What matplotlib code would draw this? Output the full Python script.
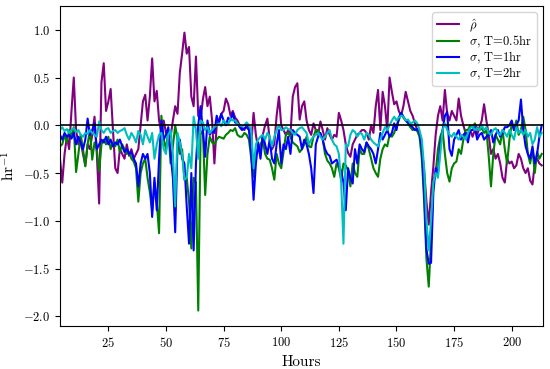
import numpy as np
import matplotlib
matplotlib.use("Agg")
import matplotlib.pyplot as plt

plt.rcParams.update({
    "font.family": "serif",
    "font.serif": ["cmr10"],
    "mathtext.fontset": "cm",
    "axes.formatter.use_mathtext": True,
    "axes.unicode_minus": True,
})

hours = np.arange(4, 214)

rho_hat = [
    -0.35, -0.60, -0.30, -0.12, -0.25, 0.15, 0.50, -0.05, -0.20, -0.18,
    -0.30, -0.42, -0.20, -0.25, -0.10, 0.09, -0.30, -0.82, 0.45, 0.65,
    0.15, 0.25, 0.38, -0.05, -0.45, -0.50, -0.25, -0.30, -0.35, -0.20,
    -0.32, -0.25, -0.35, -0.30, -0.25, 0.00, 0.25, 0.32, 0.05, 0.30,
    0.70, 0.25, 0.36, 0.05, -0.08, 0.05, -0.08, -0.05, -0.12, 0.05,
    0.20, 0.12, 0.55, 0.75, 0.97, 0.75, 0.82, 0.30, 0.20, 0.72,
    0.10, 0.05, 0.27, 0.40, 0.20, 0.30, 0.05, -0.40, 0.00, 0.05,
    0.12, 0.15, 0.28, 0.22, 0.10, 0.15, 0.08, 0.05, 0.00, -0.03,
    -0.05, 0.00, -0.02, -0.20, 0.13, -0.10, -0.25, -0.30, -0.10, 0.00,
    0.07, -0.15, -0.25, -0.20, 0.10, 0.30, 0.00, -0.05, -0.10, -0.05,
    -0.10, 0.30, 0.40, 0.44, 0.06, 0.20, 0.25, 0.05, -0.05, -0.10,
    0.02, -0.05, -0.10, 0.04, -0.05, -0.15, -0.03, -0.10, -0.15, -0.10,
    -0.12, 0.13, 0.05, -0.05, -0.20, -0.29, -0.33, -0.20, -0.15, -0.10,
    -0.08, -0.05, -0.05, -0.08, -0.15, 0.00, -0.08, 0.20, 0.37, -0.05,
    0.35, 0.20, -0.05, 0.50, 0.35, 0.22, 0.25, 0.15, 0.10, 0.20,
    0.35, 0.25, 0.15, 0.10, 0.02, -0.05, -0.10, -0.25, -0.47, -0.80,
    -1.04, -0.70, -0.43, -0.10, 0.10, 0.20, 0.05, 0.37, 0.12, 0.05,
    0.15, 0.10, 0.05, 0.28, 0.10, 0.00, -0.08, -0.10, -0.05, -0.12,
    -0.05, -0.10, -0.02, 0.05, 0.22, 0.05, -0.10, -0.30, -0.25, -0.35,
    -0.30, -0.40, -0.55, -0.60, -0.35, -0.40, -0.38, -0.45, -0.42, -0.30,
    -0.35, -0.45, -0.50, -0.45, -0.58, -0.62, -0.40, -0.35, -0.40, -0.42,
]

sigma_05 = [
    -0.22, -0.20, -0.10, -0.18, -0.05, -0.12, -0.02, -0.49, -0.30, -0.10,
    -0.25, -0.43, -0.20, -0.05, -0.36, -0.18, -0.25, -0.48, -0.20, -0.15,
    -0.20, -0.12, -0.25, -0.18, -0.22, -0.15, -0.28, -0.20, -0.25, -0.30,
    -0.28, -0.35, -0.38, -0.45, -0.80, -0.50, -0.40, -0.35, -0.55, -0.70,
    -0.90, -0.60, -0.80, -1.13, 0.10, -0.15, -0.25, -0.05, -0.40, -0.22,
    0.00, -0.15, -0.30, -0.25, -0.57, -0.55, -0.80, -1.29, -0.55, -0.60,
    -1.94, -0.10, -0.05, -0.73, -0.30, -0.12, -0.18, -0.20, -0.15, -0.12,
    -0.13, -0.14, -0.10, -0.08, -0.05, -0.06, -0.03, -0.10, -0.12, -0.12,
    -0.08, -0.10, -0.15, -0.35, -0.54, -0.30, -0.25, -0.20, -0.15, -0.30,
    -0.35, -0.36, -0.45, -0.57, -0.30, -0.40, -0.45, -0.28, -0.10, -0.08,
    -0.12, -0.18, -0.20, -0.22, -0.28, -0.25, -0.20, -0.12, -0.22, -0.23,
    -0.12, -0.05, -0.05, -0.10, -0.15, -0.30, -0.37, -0.40, -0.45, -0.54,
    -0.40, -0.45, -0.57, -0.40, -0.42, -0.47, -0.64, -0.40, -0.50, -0.54,
    -0.25, -0.30, -0.30, -0.18, -0.25, -0.35, -0.45, -0.50, -0.54, -0.35,
    -0.25, -0.20, -0.22, -0.10, -0.12, -0.08, 0.00, 0.05, 0.13, 0.08,
    0.05, 0.02, -0.02, -0.05, -0.04, -0.06, -0.12, -0.35, -0.80, -1.40,
    -1.69, -1.20, -0.60, -0.50, -0.25, -0.12, -0.05, -0.30, -0.50, -0.59,
    -0.45, -0.40, -0.38, -0.25, -0.30, -0.15, -0.05, -0.05, 0.00, -0.02,
    0.02, -0.03, -0.05, -0.03, -0.08, -0.05, -0.32, -0.64, -0.30, -0.10,
    -0.15, -0.20, -0.05, -0.25, -0.40, -0.15, 0.02, -0.05, 0.05, -0.10,
    -0.05, 0.09, -0.05, -0.30, -0.40, -0.25, -0.50, -0.28, -0.35, -0.30,
]

sigma_1 = [
    -0.10, -0.15, -0.08, -0.12, -0.10, -0.14, -0.08, -0.20, -0.12, -0.18,
    -0.25, -0.15, 0.07, -0.10, -0.05, 0.02, -0.25, -0.20, -0.15, -0.18,
    -0.12, -0.20, -0.15, -0.22, -0.18, -0.20, -0.15, -0.22, -0.28, -0.25,
    -0.30, -0.28, -0.35, -0.40, -0.64, -0.40, -0.30, -0.35, -0.30, -0.50,
    -0.96, -0.55, -0.89, -0.35, 0.05, -0.15, -0.10, -0.02, -0.30, -0.55,
    -1.12, -0.20, -0.15, -0.35, -0.40, -0.85, -1.24, -0.50, -1.31, -0.40,
    0.00, 0.20, -0.05, -0.33, 0.05, -0.10, -0.05, -0.08, 0.10, 0.02,
    0.12, 0.05, 0.00, 0.08, 0.05, 0.13, 0.03, 0.02, -0.02, -0.05,
    -0.03, -0.02, -0.05, -0.30, -0.78, -0.40, -0.18, -0.35, -0.10, -0.20,
    -0.30, -0.15, -0.35, -0.40, -0.20, -0.05, -0.40, -0.20, -0.25, -0.12,
    -0.30, -0.05, -0.08, -0.10, -0.12, -0.25, -0.15, -0.20, -0.30, -0.45,
    -0.71, -0.20, -0.12, -0.08, -0.15, -0.25, -0.30, -0.32, -0.40, -0.38,
    -0.36, -0.42, -0.48, -0.60, -0.89, -0.45, -0.55, -0.61, -0.25, -0.40,
    -0.20, -0.25, -0.28, -0.18, -0.22, -0.25, -0.30, -0.40, -0.25, -0.08,
    -0.15, -0.10, -0.05, -0.12, -0.08, 0.02, -0.05, 0.08, 0.13, 0.09,
    0.05, 0.03, 0.00, -0.02, -0.05, -0.04, -0.08, -0.25, -0.70, -1.30,
    -1.45, -1.44, -0.70, -0.45, -0.50, -0.20, -0.05, 0.10, 0.14, -0.25,
    -0.32, -0.15, -0.10, -0.05, -0.15, -0.10, -0.08, -0.18, -0.05, -0.05,
    -0.02, -0.15, -0.10, -0.08, -0.15, -0.12, -0.10, -0.05, -0.18, -0.10,
    -0.05, -0.12, -0.08, -0.02, -0.02, 0.00, 0.05, -0.05, 0.00, 0.05,
    0.27, -0.05, -0.22, -0.30, -0.35, -0.22, -0.40, -0.30, -0.12, 0.00,
]

sigma_2 = [
    -0.05, -0.02, -0.06, -0.04, -0.08, -0.05, -0.03, -0.07, -0.05, -0.10,
    -0.12, -0.08, -0.09, -0.05, -0.08, -0.10, -0.12, 0.04, -0.05, -0.08,
    -0.04, -0.03, -0.08, -0.06, -0.05, -0.08, -0.06, -0.05, -0.03, -0.10,
    -0.15, -0.08, -0.12, -0.18, -0.06, -0.10, -0.20, -0.05, -0.12, -0.18,
    -0.08, -0.35, -0.20, -0.10, -0.08, -0.25, -0.30, -0.10, -0.05, -0.30,
    -0.85, -0.08, -0.18, -0.30, -0.57, -0.55, -0.30, -0.45, 0.09, -0.05,
    -0.35, 0.05, 0.03, -0.05, -0.02, -0.08, -0.05, -0.02, 0.00, 0.02,
    -0.01, 0.05, 0.02, 0.01, 0.07, 0.05, 0.05, 0.02, 0.00, -0.01,
    0.00, 0.03, 0.00, -0.05, -0.45, -0.20, -0.15, -0.12, -0.10, -0.15,
    -0.08, -0.12, -0.22, -0.12, -0.05, 0.00, -0.05, -0.05, -0.02, -0.04,
    -0.05, -0.08, -0.10, -0.05, -0.03, -0.02, -0.05, -0.08, -0.20, -0.15,
    -0.12, -0.10, -0.08, -0.12, -0.15, -0.12, -0.08, -0.05, -0.15, -0.20,
    -0.22, -0.30, -0.60, -1.24, -0.20, -0.22, -0.10, -0.05, -0.07, -0.12,
    -0.08, -0.09, -0.15, -0.08, -0.10, -0.15, -0.18, -0.20, -0.22, -0.15,
    -0.08, -0.02, -0.05, 0.00, 0.05, 0.09, 0.05, 0.08, 0.10, 0.09,
    0.05, 0.06, 0.02, 0.03, 0.05, 0.02, -0.05, -0.15, -0.45, -1.00,
    -1.31, -1.00, -0.60, -0.50, -0.55, -0.30, -0.05, 0.02, -0.05, -0.10,
    -0.12, -0.08, -0.12, -0.15, -0.10, -0.12, -0.15, -0.08, -0.03, -0.01,
    -0.05, -0.03, -0.05, 0.00, -0.05, -0.02, -0.08, -0.10, -0.05, -0.03,
    -0.08, -0.10, -0.05, -0.08, -0.12, -0.05, -0.10, -0.15, -0.02, -0.08,
    -0.05, -0.10, -0.05, -0.12, -0.08, -0.20, -0.15, -0.02, -0.12, -0.08,
]

labels = [r"$\hat{\rho}$", r"$\sigma$, T=0.5hr", r"$\sigma$, T=1hr", r"$\sigma$, T=2hr"]
colors = ["purple", "green", "blue", "c"]

fig = plt.figure(figsize=(5.5, 3.69), dpi=100)
ax = fig.add_axes([0.109, 0.117, 0.878, 0.867])

for series, lab, col in zip([rho_hat, sigma_05, sigma_1, sigma_2], labels, colors):
    ax.plot(hours, series, color=col, lw=1.5, label=lab)

ax.axhline(0, color="black", lw=1.2)

ax.set_xlim(4, 213.5)
ax.set_ylim(-2.10, 1.25)
ax.set_xticks([25, 50, 75, 100, 125, 150, 175, 200])
ax.set_yticks([-2.0, -1.5, -1.0, -0.5, 0.0, 0.5, 1.0])
ax.tick_params(labelsize=9)
ax.set_xlabel("Hours", fontsize=11)
ax.set_ylabel(r"$\mathrm{hr}^{-1}$", fontsize=11)
ax.legend(loc="upper right", fontsize=9, labelspacing=0.0,
          handlelength=1.8, borderpad=0.35)

fig.savefig("out.png", dpi=100)
